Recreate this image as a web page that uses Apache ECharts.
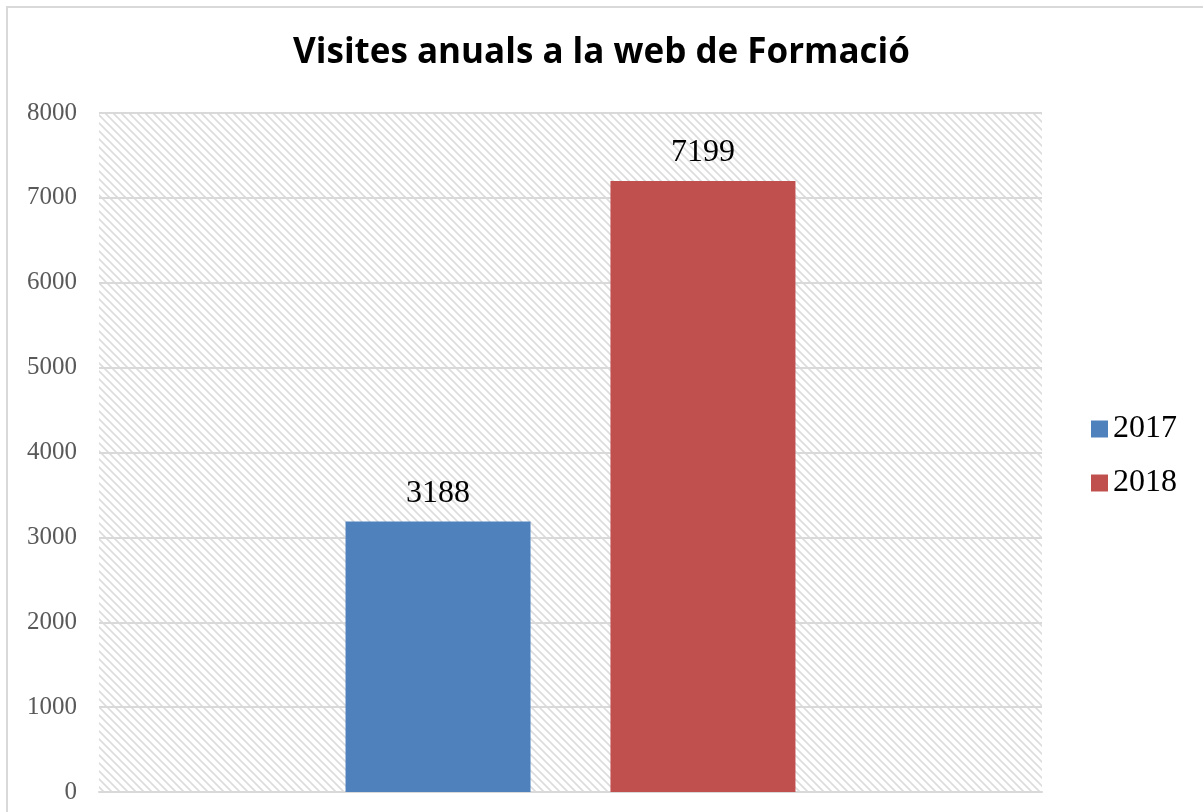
<!DOCTYPE html>
<html>
<head>
<meta charset="utf-8">
<style>
  html, body { margin: 0; padding: 0; background: #fff; }
  #chart { width: 1203px; height: 812px; }
</style>
<script src="https://cdn.jsdelivr.net/npm/echarts@6/dist/echarts.min.js"></script>
</head>
<body>
<div id="chart"></div>
<script>
// dades
const categories = ['Visites'];
const seriesNames = ['2017', '2018'];
const visits2017 = [3188];
const visits2018 = [7199];
const yTicks = [0, 1000, 2000, 3000, 4000, 5000, 6000, 7000, 8000];

// trama diagonal del fons de la graella
const makeHatch = () => {
    const c = document.createElement('canvas');
    c.width = 8;
    c.height = 8;
    const ctx = c.getContext('2d');
    ctx.strokeStyle = '#dcdcdc';
    ctx.lineWidth = 1.6;
    ctx.beginPath();
    ctx.moveTo(-1, -1); ctx.lineTo(9, 9);
    ctx.moveTo(-1, 7); ctx.lineTo(1, 9);
    ctx.moveTo(7, -1); ctx.lineTo(9, 1);
    ctx.stroke();
    return c;
};

const chart = echarts.init(document.getElementById('chart'));

const serif = '"Liberation Serif", "DejaVu Serif", serif';

const option = {
    animation: false,
    title: {
        text: 'Visites anuals a la web de Formació',
        left: 'center',
        top: 31,
        textStyle: {
            fontFamily: '"Open Sans", "Noto Sans", sans-serif',
            fontWeight: 'bold',
            fontSize: 35,
            color: '#000'
        }
    },
    graphic: [
        {
            type: 'rect',
            shape: { x: 7, y: 7, width: 1300, height: 900 },
            style: { fill: 'none', stroke: '#d9d9d9', lineWidth: 2 },
            silent: true
        }
    ],
    legend: {
        orient: 'vertical',
        left: 1086,
        top: 408,
        itemWidth: 17,
        itemHeight: 17,
        itemGap: 22,
        icon: 'rect',
        data: seriesNames,
        textStyle: {
            fontFamily: serif,
            fontSize: 32,
            lineHeight: 32,
            color: '#000',
            padding: [0, 0, 0, 0]
        }
    },
    grid: {
        left: 99,
        right: 161,
        top: 113,
        bottom: 20,
        show: true,
        borderWidth: 0,
        backgroundColor: { image: makeHatch(), repeat: 'repeat' }
    },
    xAxis: {
        type: 'category',
        data: categories,
        axisLine: { lineStyle: { color: '#d9d9d9', width: 2 } },
        axisTick: { show: false },
        axisLabel: { show: false }
    },
    yAxis: {
        type: 'value',
        min: yTicks[0],
        max: yTicks[yTicks.length - 1],
        interval: 1000,
        axisLine: { show: false },
        axisTick: { show: false },
        axisLabel: {
            margin: 22,
            fontFamily: serif,
            fontSize: 25,
            color: '#595959',
            formatter: v => String(v)
        },
        splitLine: { lineStyle: { color: '#d9d9d9', width: 2 } }
    },
    series: [
        {
            name: seriesNames[0],
            type: 'bar',
            data: visits2017,
            barWidth: 185,
            barGap: '43.2%',
            itemStyle: { color: '#4F81BD' },
            label: {
                show: true,
                position: 'top',
                distance: 12,
                fontFamily: serif,
                fontSize: 32,
                color: '#000'
            }
        },
        {
            name: seriesNames[1],
            type: 'bar',
            data: visits2018,
            barWidth: 185,
            barGap: '43.2%',
            itemStyle: { color: '#C0504D' },
            label: {
                show: true,
                position: 'top',
                distance: 12,
                fontFamily: serif,
                fontSize: 32,
                color: '#000'
            }
        }
    ]
};

chart.setOption(option);
</script>
</body>
</html>
